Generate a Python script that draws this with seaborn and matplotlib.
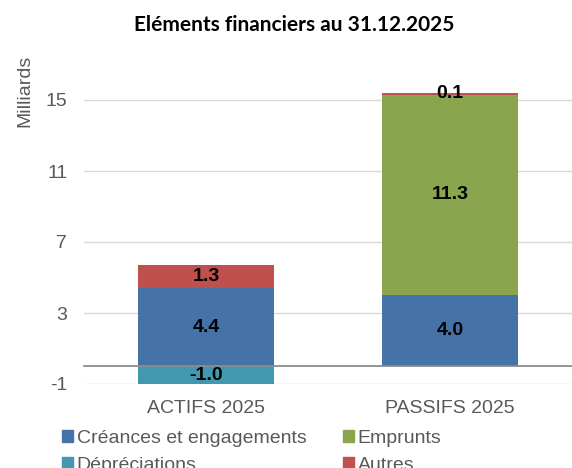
import pandas as pd
import matplotlib.pyplot as plt
import seaborn as sns

# Data (Milliards)
categories = ['ACTIFS 2025', 'PASSIFS 2025']
creances = [4.4, 4.0]
emprunts = [0.0, 11.3]
autres = [1.3, 0.1]
depreciations = [-1.0, 0.0]

colors = {
    'Créances et engagements': '#4572A7',
    'Emprunts': '#89A54E',
    'Dépréciations': '#4198AF',
    'Autres': '#C0504D',
}


def main():
    sns.set_theme(style="white")
    plt.rcParams['font.family'] = ['Liberation Sans', 'DejaVu Sans']
    plt.rcParams['axes.unicode_minus'] = False

    df = pd.DataFrame({
        'cat': categories,
        'Créances et engagements': creances,
        'Emprunts': emprunts,
        'Autres': autres,
        'Dépréciations': depreciations,
    })
    # cumulative tops for positive stack
    df['top_cre'] = df['Créances et engagements']
    df['top_emp'] = df['top_cre'] + df['Emprunts']
    df['top_aut'] = df['top_emp'] + df['Autres']

    fig = plt.figure(figsize=(5.72, 4.68), dpi=100)
    ax = fig.add_axes([84 / 572, 1 - 384 / 468, 1 - 84 / 572, (384 - 64.5) / 468])

    bw = 0.557
    # draw from the top of the stack down so lower layers cover upper ones
    sns.barplot(data=df, x='cat', y='top_aut', color=colors['Autres'], width=bw,
                saturation=1, linewidth=0, ax=ax)
    sns.barplot(data=df, x='cat', y='top_emp', color=colors['Emprunts'], width=bw,
                saturation=1, linewidth=0, ax=ax)
    sns.barplot(data=df, x='cat', y='top_cre', color=colors['Créances et engagements'], width=bw,
                saturation=1, linewidth=0, ax=ax)
    sns.barplot(data=df, x='cat', y='Dépréciations', color=colors['Dépréciations'], width=bw,
                saturation=1, linewidth=0, ax=ax)

    # value labels
    lab_kw = dict(ha='center', va='center', fontsize=14, fontweight='bold', color='black')
    for i, row in df.iterrows():
        for name, top in [('Créances et engagements', 'top_cre'), ('Emprunts', 'top_emp'), ('Autres', 'top_aut')]:
            v = row[name]
            if v != 0:
                ax.text(i, row[top] - v / 2, f'{v:.1f}', **lab_kw)
        v = row['Dépréciations']
        if v != 0:
            ax.text(i, v / 2, f'{v:.1f}', **lab_kw)

    ax.set_ylim(-1, 17)
    ax.set_xlim(-0.5, 1.5 - 18 / 253)
    ax.set_yticks([-1, 3, 7, 11, 15])
    ax.yaxis.grid(True, color='#D9D9D9', linewidth=1)
    ax.set_axisbelow(True)

    for s in ['top', 'right', 'left']:
        ax.spines[s].set_visible(False)
    ax.spines['bottom'].set_position(('data', 0))
    ax.spines['bottom'].set_color('#8C8C8C')
    ax.spines['bottom'].set_linewidth(1.3)
    ax.spines['bottom'].set_zorder(5)

    ax.set_xticks([-0.5, 0.5, 1.5], minor=True)
    ax.tick_params(axis='x', which='minor', length=4, width=1.2, color='#8C8C8C', direction='out')
    ax.tick_params(axis='x', which='major', length=0, pad=24, labelsize=14, labelcolor='#595959')
    ax.tick_params(axis='y', length=0, pad=12, labelsize=14, labelcolor='#595959')
    ax.set_xlabel('')
    ax.set_ylabel('')

    fig.text(25 / 572, 1 - 91 / 468, 'Milliards', rotation=90, ha='center', va='center',
             fontsize=14, color='#595959')
    fig.text(294 / 572, 1 - 25 / 468, 'Eléments financiers au 31.12.2025', ha='center', va='center',
             fontsize=15, fontweight='bold', color='black', family=['Lato', 'DejaVu Sans'])

    labels = ['Créances et engagements', 'Dépréciations', 'Emprunts', 'Autres']
    handles = [plt.Rectangle((0, 0), 1, 1, color=colors[n]) for n in labels]
    leg = fig.legend(handles, labels, ncol=2, loc='upper left', bbox_to_anchor=(62 / 572, 1 - 430 / 468),
                     frameon=False, fontsize=14, handlelength=0.55, handleheight=0.55,
                     handletextpad=0.2, columnspacing=1.9, labelspacing=0.5, borderpad=0,
                     borderaxespad=0)
    for t in leg.get_texts():
        t.set_color('#595959')

    fig.savefig('out.png', dpi=100)
    plt.close(fig)


if __name__ == "__main__":
    main()
